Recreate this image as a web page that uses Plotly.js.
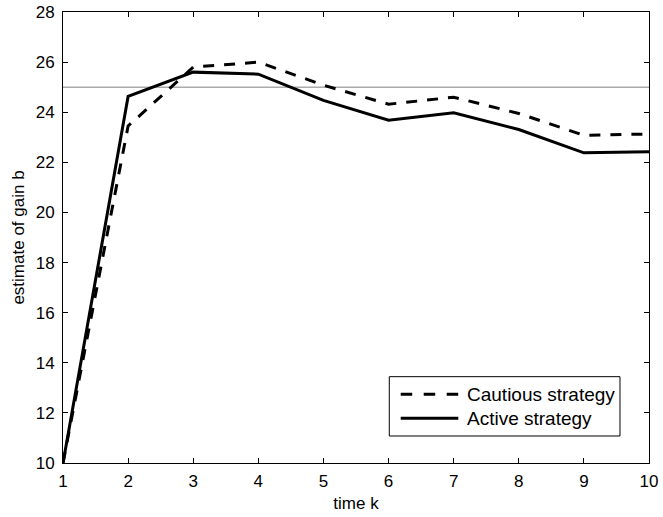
<!DOCTYPE html>
<html>
<head>
<meta charset="utf-8">
<script src="https://cdn.plot.ly/plotly-3.0.1.min.js"></script>
<style>html,body{margin:0;padding:0;background:#fff;}#chart{width:663px;height:517px;}</style>
</head>
<body>
<div id="chart"></div>
<script>
var timeK = [1, 2, 3, 4, 5, 6, 7, 8, 9, 10];
var cautious = [10, 23.45, 25.8, 26.0, 25.08, 24.32, 24.6, 23.95, 23.08, 23.13];
var active = [10, 24.63, 25.6, 25.52, 24.47, 23.68, 23.98, 23.31, 22.38, 22.42];
var trueGain = 25;
var xTicks = [1, 2, 3, 4, 5, 6, 7, 8, 9, 10];
var yTicks = [10, 12, 14, 16, 18, 20, 22, 24, 26, 28];
var seriesNames = ['Cautious strategy', 'Active strategy'];

var fam = 'Liberation Sans, Arial, sans-serif';
var font = {family: fam, size: 17, color: '#000'};
var plotDash = '11px,10px';

var traces = [
  {x: [timeK[0], timeK[timeK.length - 1]], y: [trueGain, trueGain], mode: 'lines',
   line: {color: '#808080', width: 1}, showlegend: false, hoverinfo: 'skip'},
  {x: timeK, y: cautious, mode: 'lines', name: seriesNames[0], showlegend: false,
   line: {color: '#000', width: 3, dash: plotDash}},
  {x: timeK, y: active, mode: 'lines', name: seriesNames[1], showlegend: false,
   line: {color: '#000', width: 3}}
];

var axisCommon = {
  showgrid: false, zeroline: false, showline: true, linecolor: '#000', linewidth: 1,
  mirror: 'ticks', ticks: 'inside', ticklen: 5, tickcolor: '#000', tickfont: font
};

// Custom legend box (MATLAB style, long sample lines)
var lg = {x0: 0.5568, x1: 0.9505, y0: 0.0599, y1: 0.1914,
          lx0: 0.5763, lx1: 0.6746, tx: 0.686, rows: [0.1523, 0.0991]};
var shapes = [
  {type: 'rect', xref: 'paper', yref: 'paper', x0: lg.x0, x1: lg.x1, y0: lg.y0, y1: lg.y1,
   line: {color: '#000', width: 1}, fillcolor: '#fff', layer: 'above'},
  {type: 'line', xref: 'paper', yref: 'paper', x0: lg.lx0, x1: lg.lx1, y0: lg.rows[0], y1: lg.rows[0],
   line: {color: '#000', width: 3, dash: '11.5px,11.5px'}, layer: 'above'},
  {type: 'line', xref: 'paper', yref: 'paper', x0: lg.lx0, x1: lg.lx1, y0: lg.rows[1], y1: lg.rows[1],
   line: {color: '#000', width: 3}, layer: 'above'}
];
var annotations = seriesNames.map(function (n, i) {
  return {xref: 'paper', yref: 'paper', x: lg.tx, y: lg.rows[i], xanchor: 'left', yanchor: 'middle',
          text: n, showarrow: false, font: {family: fam, size: 19, color: '#000'}};
});

var layout = {
  width: 663, height: 517,
  margin: {l: 63, r: 14, t: 12, b: 54},
  paper_bgcolor: '#fff', plot_bgcolor: '#fff',
  font: font,
  xaxis: Object.assign({}, axisCommon, {
    range: [1, 10], tickvals: xTicks, ticktext: xTicks.map(String),
    ticklabelstandoff: 3,
    title: {text: 'time k', font: font, standoff: 6}
  }),
  yaxis: Object.assign({}, axisCommon, {
    range: [10, 28], tickvals: yTicks, ticktext: yTicks.map(String),
    ticklabelstandoff: 4,
    title: {text: 'estimate of gain b', font: font, standoff: 6}
  }),
  shapes: shapes,
  annotations: annotations,
  showlegend: false
};

Plotly.newPlot('chart', traces, layout, {staticPlot: true, displayModeBar: false});
</script>
</body>
</html>
